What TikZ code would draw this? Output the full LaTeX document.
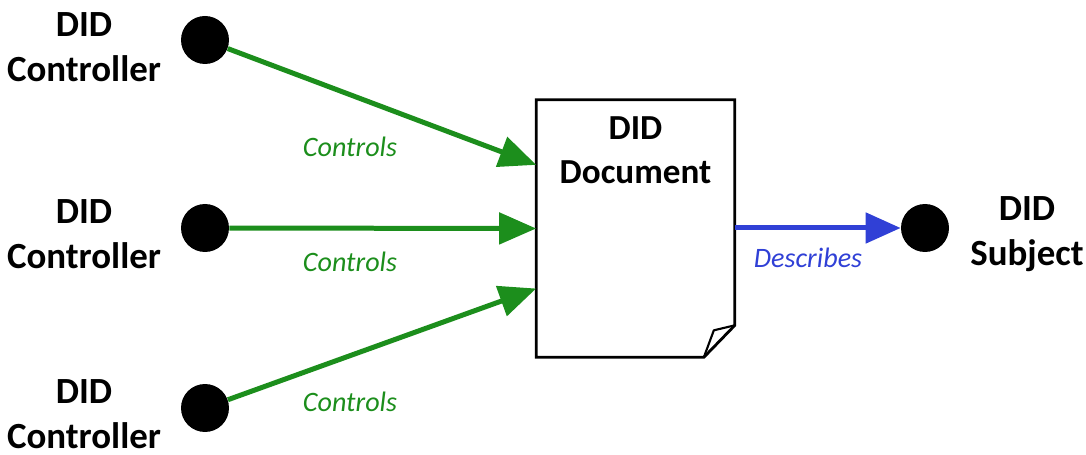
\documentclass[tikz,border=0pt]{standalone}
\usepackage{fontspec}
\setmainfont{Carlito}
\usetikzlibrary{arrows.meta, positioning, calc}

\definecolor{ctrlgreen}{RGB}{28,142,28}
\definecolor{descblue}{RGB}{48,64,214}

\begin{document}
\begin{tikzpicture}[x=0.02cm, y=-0.02cm, >=Stealth]
            \tikzset{
                party/.style={
                        circle, fill=black, minimum size=0.96cm, inner sep=0pt
                    },
                partylabel/.style={
                        font=\fontsize{21}{25.5}\selectfont\bfseries, align=center, inner sep=1pt
                    },
                controlarrow/.style={
                        ctrlgreen, line width=0.1cm, -{Triangle[length=0.74cm, width=0.62cm]}
                    },
                describearrow/.style={
                        descblue, line width=0.1cm, -{Triangle[length=0.7cm, width=0.6cm]}
                    },
                rel/.style={
                        font=\fontsize{16}{19}\selectfont\itshape
                    }
            }
            \useasboundingbox (0,0) rectangle (1086,455);

            % Parties
            \node[party] (c1) at (205,40) {};
            \node[party] (c2) at (205,228) {};
            \node[party] (c3) at (205,408) {};
            \node[party] (subj) at (925,228) {};

            \node[partylabel] (c1name) at (84,47) {DID\\Controller};
            \node[partylabel] (c2name) at (84,234) {DID\\Controller};
            \node[partylabel] (c3name) at (84,414) {DID\\Controller};
            \node[partylabel] (subjname) at (1027,234) {DID\\Subject};

            % Document with folded corner
            \node[minimum width=3.96cm, minimum height=5.14cm, inner sep=0pt] (doc) at (635.5,228.5) {};
            \draw[line width=1.6pt] (doc.south west) -- (doc.north west) -- (doc.north east)
                -- ($(doc.south east)+(0,-32)$) -- ($(doc.south east)+(-31,0)$) -- cycle;
            \draw[line width=1.2pt, line join=round] ($(doc.south east)+(-31,0)$) -- ($(doc.south east)+(-21,-27)$)
                -- ($(doc.south east)+(0,-32)$);
            \node[partylabel, font=\fontsize{20}{25}\selectfont\bfseries, below=0.3cm of doc.north] (doctitle) {DID\\Document};

            % Edge points on the document
            \coordinate (in1) at ($(doc.north west)!0.253!(doc.south west)$);
            \coordinate (in2) at ($(doc.north west)!0.5!(doc.south west)$);
            \coordinate (in3) at ($(doc.north west)!0.733!(doc.south west)$);

            % Relations
            \draw[controlarrow] (c1) -- (in1);
            \draw[controlarrow] (c2) -- (in2);
            \draw[controlarrow] (c3) -- (in3);
            \draw[describearrow] (doc.east |- subj) -- (subj);

            \node[rel, ctrlgreen] (lab1) at (350,147) {Controls};
            \node[rel, ctrlgreen] (lab2) at (350,262) {Controls};
            \node[rel, ctrlgreen] (lab3) at (350,402) {Controls};
            \node[rel, descblue] (lab4) at (808,258) {Describes};
        \end{tikzpicture}
\end{document}
